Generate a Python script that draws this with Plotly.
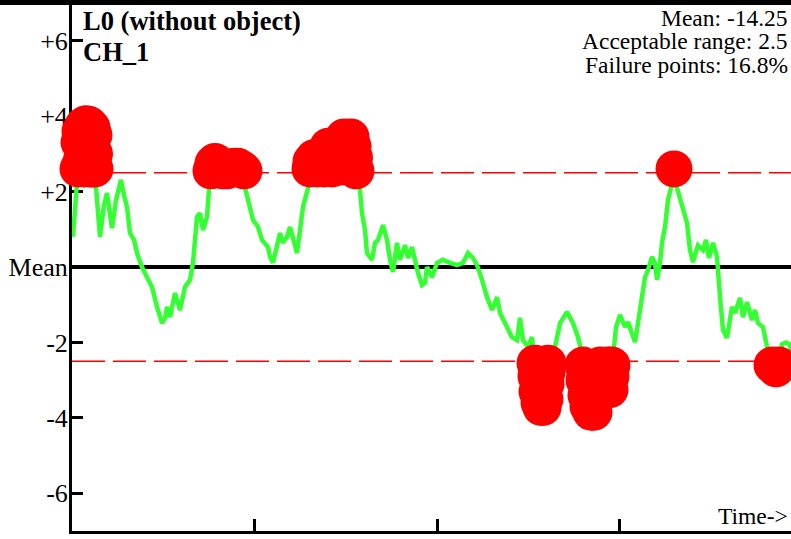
import plotly.graph_objects as go

# ---- data ----
time = [1, 5, 6, 7, 8, 9, 11, 12, 14, 15, 17, 18, 20, 21, 22, 22.5, 23, 24,
        28, 32, 35, 40, 44, 49, 52, 55, 58,
        62, 65, 70, 75, 80, 85, 90, 93, 95, 98, 103, 108, 113, 118, 121, 125, 128, 131, 135, 137,
        139, 141, 143, 146, 149, 151, 153, 155, 158, 162, 166, 170, 172, 173,
        178, 181, 186, 190, 196, 198, 201, 205, 208, 211,
        215, 218, 221, 225, 228, 231, 236,
        238, 239, 242, 245, 248, 252, 256, 260, 264, 268, 272, 276, 279, 281, 282.5, 284,
        288, 290, 293,
        295, 300, 303, 306, 311, 315, 318, 321, 325, 328, 333, 336, 340, 343, 346, 350, 353, 355, 360, 365,
        371, 378, 385, 391, 396, 401, 405, 410, 415, 420, 425, 428, 435, 440, 445, 448, 451, 456, 460,
        463, 464, 465, 467, 469, 471, 473, 474, 475, 476,
        483, 488, 495, 501, 506, 509,
        511, 512, 514, 516, 519, 522, 524, 526, 528, 531, 534, 536, 537, 538, 539, 540,
        542, 544, 548, 553, 556, 560, 563, 566, 570, 573, 576, 580, 583, 585, 588, 590, 593, 596,
        599, 602, 605, 608, 611, 615, 618, 621, 626, 631, 634, 637, 641, 645, 648, 651, 655, 660, 663, 668,
        671, 675, 680, 683, 686, 691, 695, 700, 704, 707, 710, 714, 718, 720, 723]
deviation = [0.80, 2.04, 2.6, 3.3, 3.6, 2.8, 3.75, 2.6, 3.8, 2.7, 3.78, 2.6, 3.7, 2.6, 3.5, 3.0, 2.6, 2.12,
             0.80, 1.64, 1.96, 1.03, 1.78, 2.31, 1.91, 1.59, 0.90,
             0.72, 0.37, 0.0, -0.27, -0.53, -1.06, -1.49, -1.35, -1.06, -1.33, -0.69, -1.14, -0.53, -0.34, 0.11, 1.33, 1.43, 0.98, 1.33, 2.04,
             2.55, 2.75, 2.8, 2.75, 2.6, 2.55, 2.2, 2.55, 2.6, 2.67, 2.67, 2.6, 2.55, 2.1,
             1.51, 1.25, 1.06, 0.72, 0.53, 0.27, 0.11, 0.64, 0.90, 0.64,
             0.80, 1.06, 0.72, 0.37, 0.98, 1.59, 2.09,
             2.6, 2.8, 2.9, 2.6, 2.95, 2.6, 3.2, 2.6, 3.25, 2.65, 3.45, 3.4, 3.45, 3.2, 2.9, 2.55,
             2.04, 1.43, 0.98,
             0.37, 0.19, 0.64, 0.72, 1.11, 0.72, 0.19, -0.13, 0.64, 0.19, 0.58, 0.24, 0.53, 0.11, -0.16, -0.48, -0.42, 0.0, -0.27, 0.11,
             0.19, 0.11, 0.05, 0.11, 0.37, 0.24, 0.05, -0.34, -0.80, -1.14, -0.80, -1.22, -1.59, -1.86, -1.94, -1.35, -1.94, -2.12, -1.86,
             -2.55, -2.9, -3.3, -3.6, -3.72, -3.72, -3.5, -3.1, -2.8, -2.55,
             -2.12, -1.49, -1.19, -1.49, -1.86, -2.2,
             -2.6, -3.0, -3.4, -3.7, -3.85, -3.85, -3.5, -3.0, -2.6, -2.62, -2.7, -2.6, -3.0, -3.25, -2.9, -2.6,
             -2.07, -1.6, -1.27, -1.59, -1.46, -1.8, -1.99, -1.49, -0.80, -0.27, -0.08, 0.27, 0.1, -0.34, 0.11, 0.64, 1.06, 1.78,
             2.1, 2.6, 2.1, 1.8, 1.51, 1.17, 0.45, 0.13, 0.58, 0.45, 0.72, 0.24, 0.64, 0.27, -0.80, -1.67, -1.88, -1.06, -1.22, -0.82,
             -1.33, -0.93, -1.41, -1.14, -1.49, -1.59, -2.12, -2.6, -2.7, -2.6, -2.05, -2.0, -2.05, -2.6, -3.0]
acceptable_range = 2.5
time_ticks = [0, 182.5, 365, 547.5]
y_tickvals = [-6, -4, -2, 0, 2, 4, 6]
y_ticktext = ["-6", "-4", "-2", "Mean", "+2", "+4", "+6"]
title_lines = ["L0 (without object)", "CH_1"]
stats_lines = ["Mean: -14.25", "Acceptable range: 2.5", "Failure points: 16.8%"]

fail_t = [t for t, v in zip(time, deviation) if abs(v) > acceptable_range]
fail_v = [v for v in deviation if abs(v) > acceptable_range]

W, H = 791, 539
ML, MR, MT, MB = 72, 0, 3, 8
PW, PH = W - ML - MR, H - MT - MB
SERIF = "Liberation Serif, Times New Roman, serif"


def px(x):
    return (x - ML) / PW


def py(y):
    return 1 - (y - MT) / PH


fig = go.Figure()
fig.add_trace(go.Scatter(x=time, y=deviation, mode="lines",
                         line=dict(color="#33ff33", width=4.5), cliponaxis=True,
                         hoverinfo="skip", showlegend=False))
fig.add_trace(go.Scatter(x=fail_t, y=fail_v, mode="markers",
                         marker=dict(color="#fe0000", size=37, line=dict(width=0)),
                         cliponaxis=False, hoverinfo="skip", showlegend=False))

shapes = [
    dict(type="line", xref="paper", yref="y", x0=0, x1=1, y0=0, y1=0,
         line=dict(color="black", width=4), layer="below"),
    dict(type="line", xref="paper", yref="y", x0=0, x1=1, y0=acceptable_range, y1=acceptable_range,
         line=dict(color="#fe0000", width=1.5, dash="33px,8px"), layer="below"),
    dict(type="line", xref="paper", yref="y", x0=0, x1=1, y0=-acceptable_range, y1=-acceptable_range,
         line=dict(color="#fe0000", width=1.5, dash="33px,8px"), layer="below"),
    dict(type="rect", xref="paper", yref="paper", x0=px(0), x1=px(W + 2), y0=py(5), y1=py(-2),
         fillcolor="black", line=dict(width=0), layer="above"),
]

annotations = [
    dict(text=title_lines[0], x=px(81), y=py(21), xanchor="left", yanchor="middle"),
    dict(text=title_lines[1], x=px(81), y=py(52), xanchor="left", yanchor="middle"),
]
for a in annotations:
    a.update(xref="paper", yref="paper", showarrow=False,
             font=dict(family=SERIF, size=26.5, color="black", weight="bold"))
for i, (txt, c) in enumerate(zip(stats_lines, [17.5, 41, 65])):
    annotations.append(dict(text=txt, x=px(790), y=py(c), xanchor="right", yanchor="middle",
                            xref="paper", yref="paper", showarrow=False,
                            font=dict(family=SERIF, size=23.5, color="black")))
annotations.append(dict(text="Time->", x=px(790), y=py(516), xanchor="right", yanchor="middle",
                        xref="paper", yref="paper", showarrow=False,
                        font=dict(family=SERIF, size=23.5, color="black")))

fig.update_layout(
    width=W, height=H,
    margin=dict(l=ML, r=MR, t=MT, b=MB, pad=0),
    paper_bgcolor="white", plot_bgcolor="white",
    showlegend=False,
    shapes=shapes, annotations=annotations,
    xaxis=dict(range=[0, PW], showgrid=False, zeroline=False, showline=True,
               linecolor="black", linewidth=3, ticks="inside", ticklen=12, tickwidth=3,
               tickcolor="black", tickvals=time_ticks, showticklabels=False,
               layer="below traces", fixedrange=True),
    yaxis=dict(range=[-7, 7], showgrid=False, zeroline=False, showline=True,
               linecolor="black", linewidth=3, ticks="inside", ticklen=11, tickwidth=3,
               tickcolor="black", tickvals=y_tickvals, ticktext=y_ticktext,
               tickfont=dict(family=SERIF, size=26, color="black"),
               ticklabelstandoff=-4,
               layer="below traces", fixedrange=True),
)

fig.write_html("out.html", config={"displayModeBar": False},
               post_script="document.body.style.margin='0';document.body.style.overflow='hidden';")
